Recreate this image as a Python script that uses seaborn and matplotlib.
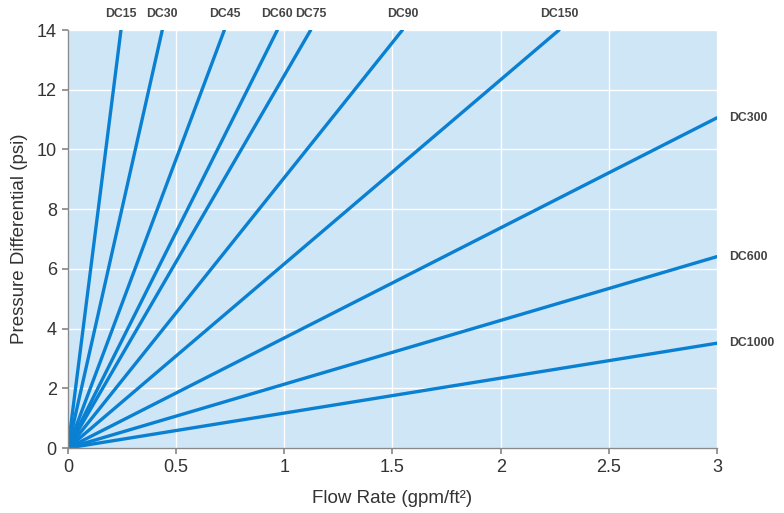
import matplotlib
matplotlib.use("Agg")
import matplotlib.pyplot as plt
import seaborn as sns
import pandas as pd

models = ["DC15", "DC30", "DC45", "DC60", "DC75", "DC90", "DC150", "DC300", "DC600", "DC1000"]
end_flow = [0.245, 0.436, 0.723, 0.968, 1.122, 1.546, 2.27, 3.0, 3.0, 3.0]
end_pressure = [14, 14, 14, 14, 14, 14, 14, 11.06, 6.41, 3.51]
xticks = [0, 0.5, 1, 1.5, 2, 2.5, 3]
yticks = [0, 2, 4, 6, 8, 10, 12, 14]

rows = []
for m, fx, py in zip(models, end_flow, end_pressure):
    rows.append({"model": m, "flow": 0.0, "pressure": 0.0})
    rows.append({"model": m, "flow": fx, "pressure": py})
df = pd.DataFrame(rows)

sns.set_theme(style="white")
plt.rcParams["font.family"] = ["Liberation Sans", "DejaVu Sans"]

line_color = "#0a80d2"
fig = plt.figure(figsize=(7.84, 5.13), dpi=100)
ax = fig.add_axes([0.0867, 0.1267, 0.9145 - 0.0867, 0.9415 - 0.1267])
ax.set_facecolor("#cfe6f6")

sns.lineplot(data=df, x="flow", y="pressure", hue="model", palette=[line_color] * len(models),
             legend=False, linewidth=2.4, ax=ax, sort=False)

ax.set_xlim(0, 3)
ax.set_ylim(0, 14)
ax.set_xticks(xticks)
ax.set_xticklabels(["0", "0.5", "1", "1.5", "2", "2.5", "3"])
ax.set_yticks(yticks)
ax.grid(True, color="white", linewidth=1.0)
ax.set_axisbelow(True)
for s in ["top", "right"]:
    ax.spines[s].set_visible(False)
for s in ["left", "bottom"]:
    ax.spines[s].set_color("#8a8a8a")
    ax.spines[s].set_linewidth(1.0)
ax.tick_params(axis="both", which="both", length=4, color="#8a8a8a", labelsize=13,
               labelcolor="#333333", left=True, bottom=True, pad=4)

ax.set_xlabel("Flow Rate (gpm/ft²)", fontsize=13.5, color="#333333", labelpad=10)
ax.set_ylabel("Pressure Differential (psi)", fontsize=13.5, color="#333333", labelpad=6)

for m, fx, py in zip(models, end_flow, end_pressure):
    if py >= 14:
        ax.annotate(m, xy=(fx, 14), xytext=(0, 7), textcoords="offset points",
                    ha="center", va="bottom", fontsize=8.8, fontweight="semibold", color="#444444",
                    annotation_clip=False)
    else:
        ax.annotate(m, xy=(3, py), xytext=(9, 0), textcoords="offset points",
                    ha="left", va="center", fontsize=8.8, fontweight="semibold", color="#444444",
                    annotation_clip=False)

fig.savefig("out.png", dpi=100)
